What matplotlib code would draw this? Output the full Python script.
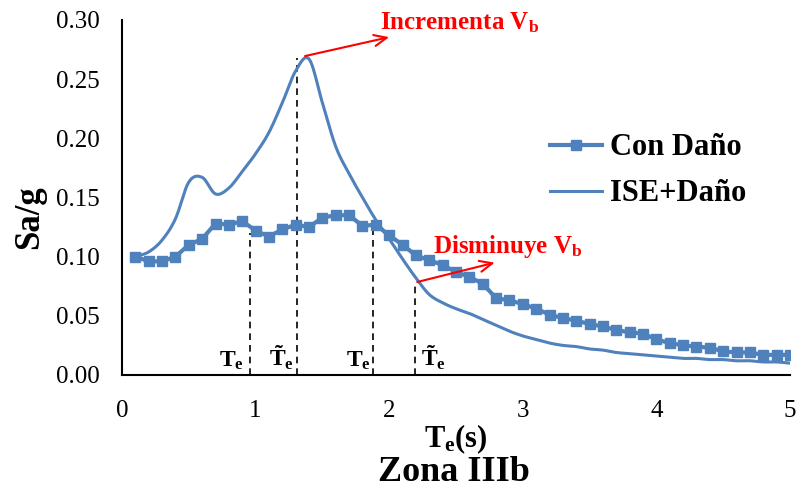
import numpy as np
import matplotlib
matplotlib.use("Agg")
import matplotlib.pyplot as plt

plt.rcParams['font.family'] = ['Liberation Serif', 'DejaVu Serif']
plt.rcParams['mathtext.fontset'] = 'custom'
plt.rcParams['mathtext.rm'] = 'Liberation Serif'
plt.rcParams['mathtext.bf'] = 'Liberation Serif:bold'
plt.rcParams['mathtext.it'] = 'Liberation Serif:italic'

# ---- data ----
periods = [round(0.1 * i, 1) for i in range(1, 51)]
con_dano = [0.100, 0.096, 0.096, 0.100, 0.110, 0.115, 0.128, 0.127, 0.130, 0.122,
            0.117, 0.123, 0.127, 0.125, 0.133, 0.135, 0.135, 0.126, 0.127, 0.118,
            0.110, 0.101, 0.097, 0.093, 0.087, 0.083, 0.077, 0.065, 0.063, 0.060,
            0.056, 0.051, 0.048, 0.046, 0.043, 0.041, 0.038, 0.036, 0.035, 0.030,
            0.027, 0.025, 0.024, 0.023, 0.020, 0.019, 0.019, 0.017, 0.017, 0.017]
ise_dano = [0.100, 0.104, 0.114, 0.132, 0.163, 0.167, 0.153, 0.158, 0.172, 0.187,
            0.205, 0.230, 0.257, 0.267, 0.230, 0.193, 0.170, 0.150, 0.131, 0.115,
            0.098, 0.082, 0.068, 0.061, 0.056, 0.052, 0.047, 0.042, 0.037, 0.033,
            0.030, 0.027, 0.025, 0.024, 0.022, 0.021, 0.019, 0.018, 0.017, 0.016,
            0.015, 0.014, 0.014, 0.013, 0.013, 0.012, 0.012, 0.011, 0.011, 0.010]

# marked periods (vertical dashed lines) and their heights
mark_x = [0.96, 1.31, 1.88, 2.19]
mark_top = [0.120, 0.268, 0.125, 0.078]
mark_labels = [r'$\mathbf{T_e}$', r'$\mathbf{\tilde{T}_e}$', r'$\mathbf{T_e}$', r'$\mathbf{\tilde{T}_e}$']
label_x = [0.82, 1.19, 1.77, 2.33]

x_ticks = [0, 1, 2, 3, 4, 5]
y_ticks = [0.00, 0.05, 0.10, 0.15, 0.20, 0.25, 0.30]


def catmull_rom(x, y, n=12):
    x = np.asarray(x, float); y = np.asarray(y, float)
    px = np.concatenate([[2 * x[0] - x[1]], x, [2 * x[-1] - x[-2]]])
    py = np.concatenate([[2 * y[0] - y[1]], y, [2 * y[-1] - y[-2]]])
    outx, outy = [], []
    t = np.linspace(0, 1, n, endpoint=False)
    for i in range(1, len(px) - 2):
        for arr, out in ((px, outx), (py, outy)):
            p0, p1, p2, p3 = arr[i - 1], arr[i], arr[i + 1], arr[i + 2]
            out.extend(0.5 * ((2 * p1) + (-p0 + p2) * t + (2 * p0 - 5 * p1 + 4 * p2 - p3) * t ** 2
                              + (-p0 + 3 * p1 - 3 * p2 + p3) * t ** 3))
    outx.append(x[-1]); outy.append(y[-1])
    return np.array(outx), np.array(outy)


blue = '#4F81BD'
fig = plt.figure(figsize=(7.99, 4.91), dpi=100)
ax = fig.add_axes([0.1527, 0.2363, 0.836, 0.723])

sx, sy = catmull_rom(periods, ise_dano)
ax.plot(periods, con_dano, color=blue, lw=3.0, marker='s', ms=7, label='Con Daño', zorder=3)
ax.plot(sx, sy, color=blue, lw=2.2, label='ISE+Daño', zorder=3)

for mx, mt in zip(mark_x, mark_top):
    ax.plot([mx, mx], [0, mt], color='black', lw=1.2, ls=(0, (4, 3)), zorder=2)
for lx, lab in zip(label_x, mark_labels):
    ax.text(lx, 0.0068, lab, fontsize=17, ha='center', va='baseline')

# red annotations
ax.annotate('', xy=(2.02, 0.286), xytext=(1.35, 0.269),
            arrowprops=dict(arrowstyle='->,head_length=0.9,head_width=0.4', color='red', lw=1.5))
ax.text(1.93, 0.292, r'Incrementa V$_\mathbf{b}$', color='red', fontsize=18, fontweight='bold',
        ha='left', va='baseline')
ax.annotate('', xy=(2.81, 0.0955), xytext=(2.19, 0.078),
            arrowprops=dict(arrowstyle='->,head_length=0.9,head_width=0.4', color='red', lw=1.5))
ax.text(2.33, 0.103, r'Disminuye V$_\mathbf{b}$', color='red', fontsize=18, fontweight='bold',
        ha='left', va='baseline')

ax.set_xlim(0, 5)
ax.set_ylim(0, 0.30)
ax.set_xticks(x_ticks)
ax.set_yticks(y_ticks)
ax.set_yticklabels([f'{v:.2f}' for v in y_ticks])
ax.tick_params(length=0, labelsize=18)
ax.tick_params(axis='x', pad=18)
ax.tick_params(axis='y', pad=16)
for s in ('top', 'right'):
    ax.spines[s].set_visible(False)
ax.spines['left'].set_linewidth(1.5)
ax.spines['bottom'].set_linewidth(1.5)

ax.set_ylabel('Sa/g', fontsize=25, fontweight='bold')
ax.yaxis.set_label_coords(-0.114, 0.445)
ax.set_xlabel(r'T$_\mathbf{e}$(s)', fontsize=22, fontweight='bold', labelpad=0)
fig.text(0.568, 0.038, 'Zona IIIb', fontsize=26, fontweight='bold', ha='center', va='center')

leg = ax.legend(loc='center left', bbox_to_anchor=(0.641, 0.575), frameon=False,
                prop=dict(size=22, weight='bold'), handlelength=1.7, handletextpad=0.25,
                labelspacing=0.55, borderaxespad=0, borderpad=0)

fig.savefig('out.png', dpi=100)
